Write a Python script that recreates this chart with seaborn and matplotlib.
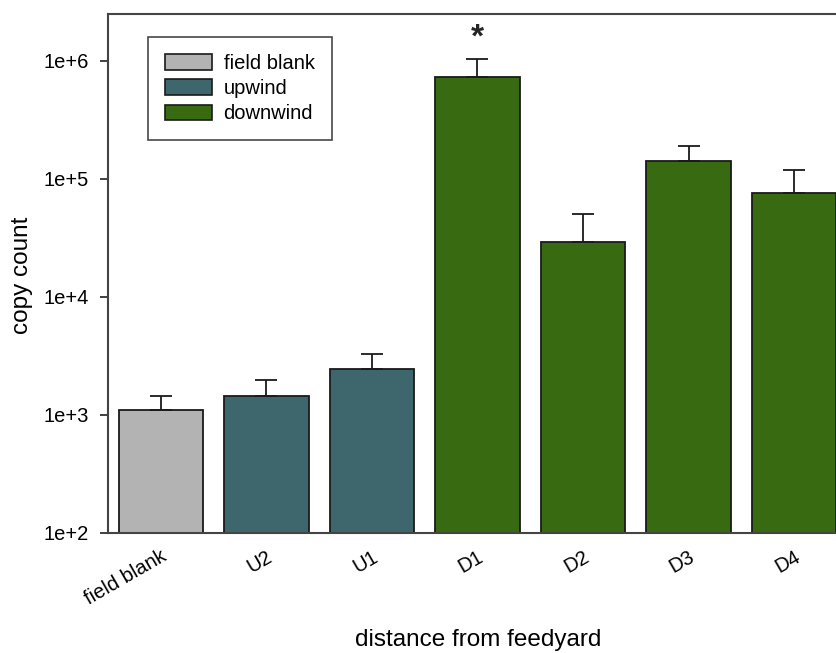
import numpy as np
import pandas as pd
import matplotlib
matplotlib.use("Agg")
import matplotlib.pyplot as plt
import seaborn as sns
from matplotlib.patches import Patch

categories = ["field blank", "U2", "U1", "D1", "D2", "D3", "D4"]
groups = ["field blank", "upwind", "upwind", "downwind", "downwind", "downwind", "downwind"]
means = [1100, 1450, 2450, 731000, 29200, 142000, 76000]
upper = [1450, 1980, 3290, 1040000, 50500, 190000, 119000]
group_names = ["field blank", "upwind", "downwind"]
group_colors = ["#b3b3b3", "#3d676c", "#386a11"]

sns.set_theme(style="white")
plt.rcParams["font.family"] = ["Liberation Sans", "DejaVu Sans"]

df = pd.DataFrame({"cat": categories, "group": groups, "val": means})

fig = plt.figure(figsize=(8.36, 6.53), dpi=100)
ax = fig.add_axes([108 / 836, 1 - 533 / 653, (847 - 108) / 836, (533 - 14) / 653])

sns.barplot(data=df, x="cat", y="val", hue="group", hue_order=group_names,
            palette=dict(zip(group_names, group_colors)), dodge=False, saturation=1,
            width=0.8, edgecolor="#1a1a1a", linewidth=1.3, ax=ax, legend=False,
            errorbar=None)

x = np.arange(len(categories))
err = np.array(upper) - np.array(means)
ax.errorbar(x, means, yerr=[np.zeros(len(x)), err], fmt="none", ecolor="#1a1a1a",
            elinewidth=1.3, capsize=8, capthick=1.3, zorder=1)

ax.set_yscale("log")
ax.set_ylim(100, 10 ** 6.398)
ax.set_xlim(-0.5, len(categories) - 0.5)
ax.set_yticks([1e2, 1e3, 1e4, 1e5, 1e6])
ax.set_yticklabels(["1e+2", "1e+3", "1e+4", "1e+5", "1e+6"])
ax.yaxis.set_minor_locator(matplotlib.ticker.NullLocator())
ax.tick_params(axis="y", which="major", direction="out", length=6, width=1.3,
               color="#333333", labelsize=14.5, labelcolor="black", pad=8, left=True)
ax.tick_params(axis="x", length=0, labelsize=14.5, labelcolor="black", pad=10)
plt.setp(ax.get_xticklabels(), rotation=30, ha="right", rotation_mode="anchor")

for s in ["left", "bottom", "top"]:
    ax.spines[s].set_visible(True)
    ax.spines[s].set_color("#444444")
    ax.spines[s].set_linewidth(1.5)
ax.spines["right"].set_visible(False)

ax.set_xlabel("distance from feedyard", fontsize=17.5, color="black", va="center")
ax.xaxis.set_label_coords((478 - 108) / 739, -(640 - 533) / 519)
ax.set_ylabel("copy count", fontsize=17.5, color="black", va="center")
ax.yaxis.set_label_coords(-(108 - 22) / 739, (533 - 275) / 519)

ax.text(3, 10 ** 6.19, "*", fontsize=24, fontweight="bold", ha="center", va="center")

handles = [Patch(facecolor=c, edgecolor="#1a1a1a", linewidth=1.2, label=n)
           for n, c in zip(group_names, group_colors)]
leg = ax.legend(handles=handles, loc="upper left",
                bbox_to_anchor=((148 - 108) / 739, 1 - (37 - 14) / 519),
                frameon=True, fancybox=False, fontsize=14.5, handlelength=2.35,
                handleheight=0.8, labelspacing=0.3, borderpad=0.85, handletextpad=0.55,
                borderaxespad=0)
leg.get_frame().set_edgecolor("#1a1a1a")
leg.get_frame().set_linewidth(1.2)
for t in leg.get_texts():
    t.set_color("black")

fig.savefig("out.png", dpi=100)
